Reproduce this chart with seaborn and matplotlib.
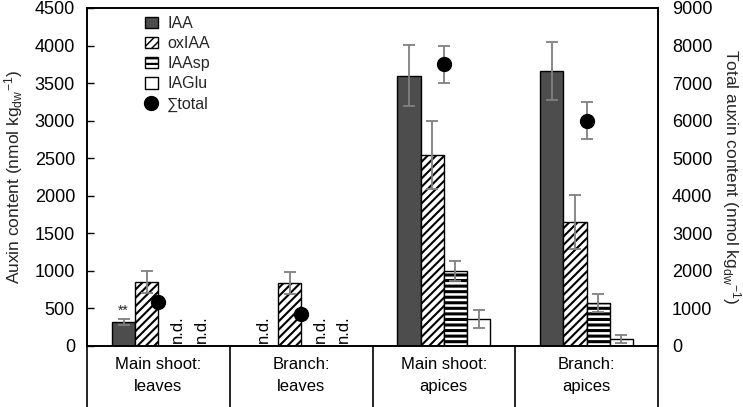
import numpy as np
import pandas as pd
import matplotlib
matplotlib.use("Agg")
import matplotlib.pyplot as plt
import matplotlib.transforms as mtransforms
from matplotlib.patches import Patch
from matplotlib.lines import Line2D
import seaborn as sns

# ---------------- data ----------------
tissues = ["Main shoot:\nleaves", "Branch:\nleaves", "Main shoot:\napices", "Branch:\napices"]
compounds = ["IAA", "oxIAA", "IAAsp", "IAGlu"]
iaa = [320, 0, 3600, 3660]
iaa_err = [35, 0, 410, 390]
oxiaa = [855, 840, 2540, 1650]
oxiaa_err = [145, 150, 455, 365]
iaasp = [0, 0, 1000, 570]
iaasp_err = [0, 0, 135, 120]
iaglu = [0, 0, 363, 95]
iaglu_err = [0, 0, 120, 50]
not_detected = [[False, True, False, False],   # IAA
                [False, False, False, False],  # oxIAA
                [True, True, False, False],    # IAAsp
                [True, True, False, False]]    # IAGlu
total = [1180, 845, 7500, 6000]
total_err = [60, 40, 500, 500]
left_ticks = [0, 500, 1000, 1500, 2000, 2500, 3000, 3500, 4000, 4500]
right_ticks = [0, 1000, 2000, 3000, 4000, 5000, 6000, 7000, 8000, 9000]

values = [iaa, oxiaa, iaasp, iaglu]
errors = [iaa_err, oxiaa_err, iaasp_err, iaglu_err]

rows = []
for c, vals in zip(compounds, values):
    for t, v in zip(tissues, vals):
        rows.append({"tissue": t, "compound": c, "value": v})
df = pd.DataFrame(rows)

# ---------------- style ----------------
sns.set_theme(style="white")
plt.rcParams["font.family"] = ["Liberation Sans", "DejaVu Sans"]
plt.rcParams["mathtext.fontset"] = "custom"
plt.rcParams["mathtext.rm"] = "Liberation Sans"
plt.rcParams["mathtext.it"] = "Liberation Sans:italic"
plt.rcParams["hatch.linewidth"] = 1.5

fills = ["#4d4d4d", "white", "white", "white"]
hatches = [None, "////", "---", None]
hatch_lw = [1.0, 1.5, 2.2, 1.0]
err_color = "#808080"

fig = plt.figure(figsize=(7.43, 4.07), dpi=100)
ax = fig.add_axes([87 / 743, 61 / 407, 571 / 743, 338 / 407])

sns.barplot(data=df, x="tissue", y="value", hue="compound", order=tissues,
            hue_order=compounds, palette=fills, saturation=1, width=0.65,
            edgecolor="black", linewidth=1.0, errorbar=None, legend=False, ax=ax)


def set_hlw(artist, lw):
    try:
        artist.set_hatch_linewidth(lw)
    except Exception:
        pass


bar_containers = list(ax.containers)
for ci, cont in enumerate(bar_containers):
    xs, hs, es = [], [], []
    for ti, patch in enumerate(cont):
        if hatches[ci]:
            patch.set_hatch(hatches[ci])
            set_hlw(patch, hatch_lw[ci])
        xc = patch.get_x() + patch.get_width() / 2
        if not_detected[ci][ti]:
            dx = -0.02 if ci == 0 else 0.055
            ax.text(xc + dx, 45, "n.d.", rotation=90, ha="center", va="bottom",
                    fontsize=12, color="black")
        else:
            xs.append(xc)
            hs.append(patch.get_height())
            es.append(errors[ci][ti])
            if ci == 0 and ti == 0:
                ax.text(xc, 420, "**", ha="center", va="baseline", fontsize=10)
    ax.errorbar(xs, hs, yerr=es, fmt="none", ecolor=err_color, elinewidth=1.3,
                capsize=4, capthick=1.3, zorder=5)

ax.set_xlim(-0.5, 3.5)
ax.set_ylim(0, 4500)
ax.set_yticks(left_ticks)
ax.set_xlabel("")
ax.set_ylabel("Auxin content (nmol kg$_{\\mathrm{dw}}$$^{\\mathrm{-1}}$)", fontsize=12.5,
              va="center")
ax.yaxis.set_label_coords(-0.128, 0.5)
ax.tick_params(axis="y", direction="in", length=5, width=1, pad=8.6,
               labelsize=13, left=True, colors="black")
ax.tick_params(axis="x", length=0, pad=8, labelsize=12, colors="black")
for lbl in ax.get_xticklabels():
    lbl.set_linespacing(1.55)
for s in ax.spines.values():
    s.set_color("black")
    s.set_linewidth(1.2)

# vertical dividers of the category table below the axis
trans = mtransforms.blended_transform_factory(ax.transData, ax.transAxes)
for xd in [-0.5, 0.5, 1.5, 2.5, 3.5]:
    ax.add_line(Line2D([xd, xd], [0, -0.2], transform=trans, clip_on=False,
                       color="black", lw=1.2))

# total auxin on secondary axis
ax2 = ax.twinx()
ax2.set_ylim(0, 9000)
ax2.set_yticks(right_ticks)
ax2.errorbar(np.arange(len(total)), total, yerr=total_err, fmt="none",
             ecolor=err_color, elinewidth=1.3, capsize=4, capthick=1.3, zorder=3)
ax2.plot(np.arange(len(total)), total, "o", color="black", markersize=10, zorder=4)
ax2.set_ylabel("Total auxin content (nmol kg$_{\\mathrm{dw}}$$^{\\mathrm{-1}}$)",
               fontsize=12.5, rotation=270, va="center")
ax2.yaxis.set_label_coords(1.128, 0.5)
ax2.tick_params(axis="y", length=0, pad=10, labelsize=13, colors="black")
for s in ax2.spines.values():
    s.set_color("black")
    s.set_linewidth(1.2)

# legend
handles = []
for c, f, h in zip(compounds, fills, hatches):
    p = Patch(facecolor=f, edgecolor="black", hatch=h, linewidth=1.0, label=c)
    handles.append(p)
handles.append(Line2D([], [], marker="o", color="black", linestyle="none",
                      markersize=10, label="\u2211total"))
leg = ax2.legend(handles=handles, loc="upper left", bbox_to_anchor=(0.09, 0.995),
                 frameon=False, fontsize=11.5, handlelength=0.8, handleheight=0.72,
                 handletextpad=0.6, labelspacing=0.32, borderaxespad=0)
for p, lw in zip(leg.get_patches(), hatch_lw):
    set_hlw(p, lw * 0.7)

fig.savefig("out.png", dpi=100)
